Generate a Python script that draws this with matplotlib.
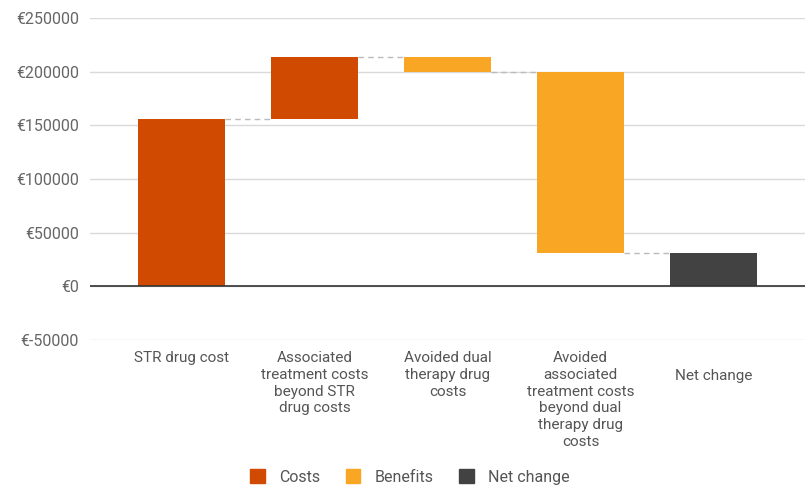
import matplotlib
matplotlib.use("Agg")
import matplotlib.pyplot as plt
import matplotlib.patches as patches
import matplotlib.transforms as mtransforms

# Data
categories = [
    "STR drug cost",
    "Associated\ntreatment costs\nbeyond STR\ndrug costs",
    "Avoided dual\ntherapy drug\ncosts",
    "Avoided\nassociated\ntreatment costs\nbeyond dual\ntherapy drug\ncosts",
    "Net change",
]
changes = [156000, 57500, -13500, -169000]
kinds = ["Costs", "Costs", "Benefits", "Benefits"]
y_ticks = [-50000, 0, 50000, 100000, 150000, 200000, 250000]

colors = {"Costs": "#D04A02", "Benefits": "#FAA625", "Net change": "#424242"}

plt.rcParams['font.family'] = ['Roboto', 'DejaVu Sans']

fig = plt.figure(figsize=(8.08, 4.87), dpi=100)
ax = fig.add_axes([90 / 808, (487 - 340) / 487, 715 / 808, 322 / 487])

bar_w = 0.65
running = 0
tops = []
for i, (d, k) in enumerate(zip(changes, kinds)):
    start = running
    running += d
    ax.bar(i, running - start, bottom=start, width=bar_w, color=colors[k], zorder=3)
    tops.append(running)

net = running
ax.bar(len(changes), net, width=bar_w, color=colors["Net change"], zorder=3)

# dashed connectors between bars
for i, level in enumerate(tops):
    ax.plot([i + bar_w / 2, i + 1 - bar_w / 2], [level, level],
            color="#bbbbbb", lw=1, ls=(0, (4, 3)), zorder=2)

ax.set_xlim(-0.688, 4.688)
ax.set_ylim(-50000, 250000)
ax.set_yticks(y_ticks)
ax.set_yticklabels(["€" + str(v) for v in y_ticks])
ax.grid(axis="y", color="#d9d9d9", lw=1, zorder=0)
ax.axhline(0, color="#333333", lw=1.2, zorder=4)

ax.set_xticks(range(len(categories)))
ax.set_xticklabels(categories, linespacing=1.25)
ax.tick_params(axis="x", length=0, pad=8, labelsize=11, labelcolor="#555555")
ax.tick_params(axis="y", length=0, pad=8, labelsize=11.5, labelcolor="#666666")
for s in ax.spines.values():
    s.set_visible(False)
labels = ax.get_xticklabels()
for lab in labels:
    lab.set_verticalalignment("top")
# the last label sits one line lower in the reference
shift = mtransforms.ScaledTranslation(0, -18 / 100, fig.dpi_scale_trans)
labels[-1].set_transform(labels[-1].get_transform() + shift)

handles = [patches.Patch(color=colors[k]) for k in ["Costs", "Benefits", "Net change"]]
leg = fig.legend(handles, ["Costs", "Benefits", "Net change"], loc="center",
                 bbox_to_anchor=(410 / 808, 1 - 477 / 487), ncol=3, frameon=False,
                 fontsize=11.5, handlelength=0.9, handleheight=0.9, columnspacing=1.6,
                 handletextpad=0.9)
for t in leg.get_texts():
    t.set_color("#555555")

fig.savefig("out.png", dpi=100)
